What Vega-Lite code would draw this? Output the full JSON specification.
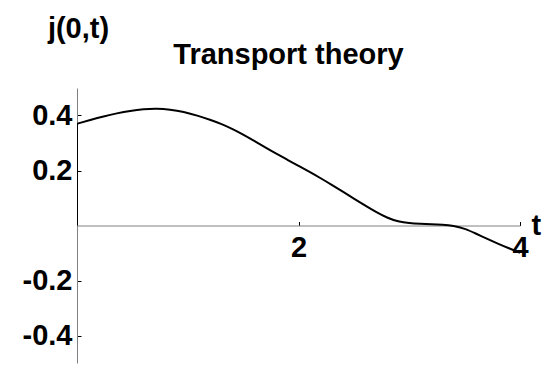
{
  "$schema": "https://vega.github.io/schema/vega-lite/v6.json",
  "width": 443,
  "height": 275,
  "autosize": {"type": "none"},
  "padding": {"left": 77, "top": 88, "right": 27, "bottom": 7},
  "background": "white",
  "config": {
    "view": {"stroke": null},
    "font": "Liberation Sans"
  },
  "title": {
    "text": "Transport theory",
    "font": "Liberation Sans",
    "fontSize": 29,
    "fontWeight": "bold",
    "color": "black",
    "anchor": "middle",
    "baseline": "alphabetic",
    "dx": -10,
    "dy": 103,
    "offset": 24
  },
  "data": {
    "values": [
      {"i": 0, "t": 0, "j": 0},
      {"i": 1, "t": 0, "j": 0.37},
      {"i": 2, "t": 0, "j": 0.37},
      {"i": 3, "t": 0, "j": 0.37},
      {"i": 4, "t": 0.12, "j": 0.384},
      {"i": 5, "t": 0.24, "j": 0.397},
      {"i": 6, "t": 0.36, "j": 0.408},
      {"i": 7, "t": 0.48, "j": 0.417},
      {"i": 8, "t": 0.6, "j": 0.423},
      {"i": 9, "t": 0.72, "j": 0.425},
      {"i": 10, "t": 0.84, "j": 0.422},
      {"i": 11, "t": 0.96, "j": 0.414},
      {"i": 12, "t": 1.1, "j": 0.398},
      {"i": 13, "t": 1.2, "j": 0.385},
      {"i": 14, "t": 1.3, "j": 0.370},
      {"i": 15, "t": 1.4, "j": 0.352},
      {"i": 16, "t": 1.5, "j": 0.331},
      {"i": 17, "t": 1.6, "j": 0.308},
      {"i": 18, "t": 1.7, "j": 0.284},
      {"i": 19, "t": 1.8, "j": 0.261},
      {"i": 20, "t": 1.9, "j": 0.239},
      {"i": 21, "t": 2.0, "j": 0.217},
      {"i": 22, "t": 2.1, "j": 0.195},
      {"i": 23, "t": 2.2, "j": 0.172},
      {"i": 24, "t": 2.3, "j": 0.148},
      {"i": 25, "t": 2.4, "j": 0.123},
      {"i": 26, "t": 2.5, "j": 0.098},
      {"i": 27, "t": 2.6, "j": 0.073},
      {"i": 28, "t": 2.7, "j": 0.049},
      {"i": 29, "t": 2.8, "j": 0.028},
      {"i": 30, "t": 2.9, "j": 0.014},
      {"i": 31, "t": 3.0, "j": 0.008},
      {"i": 32, "t": 3.1, "j": 0.006},
      {"i": 33, "t": 3.2, "j": 0.005},
      {"i": 34, "t": 3.3, "j": 0.003},
      {"i": 35, "t": 3.4, "j": -0.001},
      {"i": 36, "t": 3.5, "j": -0.011},
      {"i": 37, "t": 3.6, "j": -0.029},
      {"i": 38, "t": 3.7, "j": -0.048},
      {"i": 39, "t": 3.8, "j": -0.066},
      {"i": 40, "t": 3.9, "j": -0.083},
      {"i": 41, "t": 4.0, "j": -0.099}
    ]
  },
  "mark": {
    "type": "line",
    "color": "black",
    "strokeWidth": 2,
    "interpolate": "basis",
    "clip": true
  },
  "encoding": {
    "order": {"field": "i", "type": "quantitative"},
    "x": {
      "field": "t",
      "type": "quantitative",
      "scale": {"domain": [0, 4], "nice": false, "zero": false},
      "axis": {
        "values": [2, 4],
        "offset": -137.5,
        "grid": false,
        "domainColor": "#808080",
        "domainWidth": 1,
        "tickColor": "black",
        "tickWidth": 1,
        "tickSize": -4,
        "labelPadding": 12,
        "labelFont": "Liberation Sans",
        "labelFontSize": 29,
        "labelFontWeight": "bold",
        "labelColor": "black",
        "labelFlush": false,
        "labelOverlap": false,
        "title": "t",
        "titleFont": "Liberation Sans",
        "titleFontSize": 29,
        "titleFontWeight": "bold",
        "titleColor": "black",
        "titleX": 454,
        "titleY": 9,
        "titleAlign": "left",
        "titleBaseline": "alphabetic"
      }
    },
    "y": {
      "field": "j",
      "type": "quantitative",
      "scale": {"domain": [-0.5, 0.5], "nice": false, "zero": false},
      "axis": {
        "values": [-0.4, -0.2, 0.2, 0.4],
        "labelExpr": "datum.value < 0 ? '-' + format(-datum.value, '.1f') : format(datum.value, '.1f')",
        "grid": false,
        "domainColor": "#808080",
        "domainWidth": 1,
        "tickColor": "black",
        "tickWidth": 1,
        "tickSize": -4,
        "labelPadding": 9,
        "labelFont": "Liberation Sans",
        "labelFontSize": 29,
        "labelFontWeight": "bold",
        "labelColor": "black",
        "labelFlush": false,
        "labelOverlap": false,
        "title": "j(0,t)",
        "titleFont": "Liberation Sans",
        "titleFontSize": 29,
        "titleFontWeight": "bold",
        "titleColor": "black",
        "titleAngle": 0,
        "titleX": 1,
        "titleY": -51,
        "titleAlign": "center",
        "titleBaseline": "alphabetic"
      }
    }
  }
}
